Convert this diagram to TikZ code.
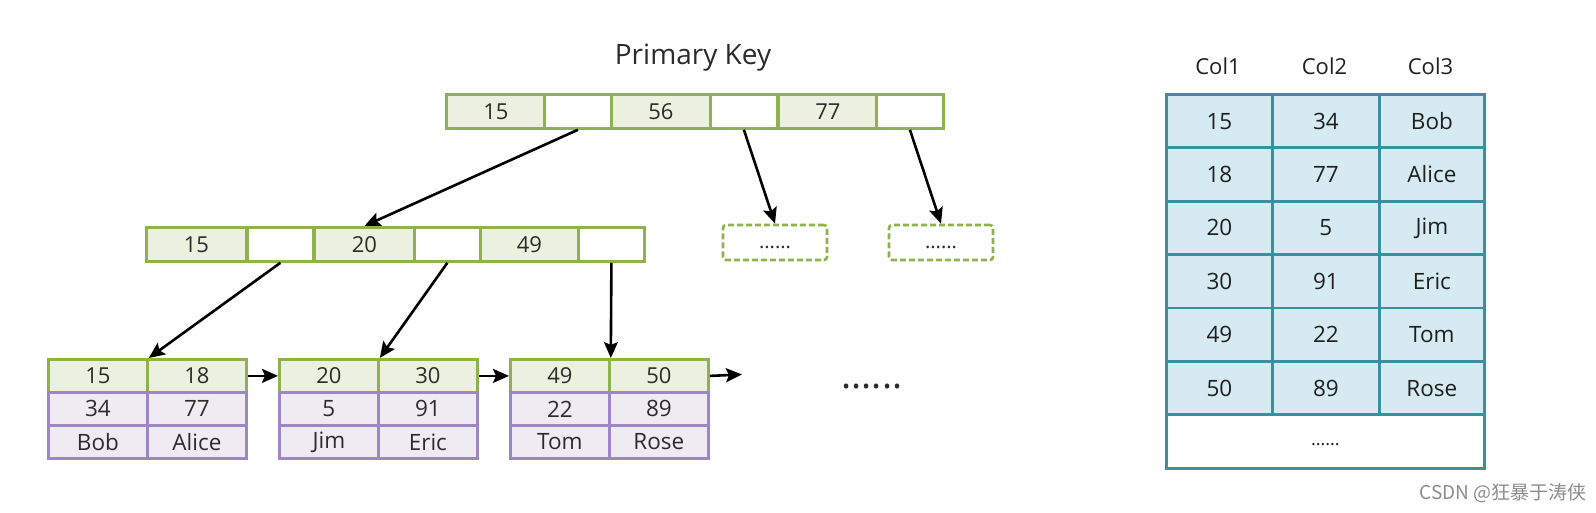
\documentclass[tikz,border=0pt]{standalone}
\usepackage{fontspec}
\setmainfont{Open Sans}
\newfontfamily\cjk{Noto Sans CJK SC}
\usepackage{tikz}
\usetikzlibrary{arrows.meta}
\usetikzlibrary{positioning}
\definecolor{keyline}{HTML}{8DB24E}
\definecolor{keyfill}{HTML}{EBF1DE}
\definecolor{rowline}{HTML}{9E86C6}
\definecolor{rowfill}{HTML}{EFEBF3}
\definecolor{tabline}{HTML}{3A8FA3}
\definecolor{tabfill}{HTML}{D6EBF1}
\definecolor{txt}{HTML}{2B2B2B}
\tikzset{
  cell/.style={rectangle, anchor=north west, inner sep=0pt, line width=2.8pt, text=txt, font=\fontsize{22}{26}\selectfont},
  keycell/.style={cell, draw=keyline, fill=keyfill},
  ptrcell/.style={cell, draw=keyline, fill=white},
  rowcell/.style={cell, draw=rowline, fill=rowfill, font=\fontsize{22.5}{26}\selectfont},
  tabcell/.style={cell, draw=tabline, fill=tabfill, text=black!88, font=\fontsize{22.5}{26}\selectfont},
  dashbox/.style={rectangle, draw=keyline, line width=2.6pt, dash pattern=on 6pt off 3pt, rounded corners=3pt, minimum width=104pt, minimum height=35pt, inner sep=0pt, text height=12pt, text depth=0pt, text=txt, font=\fontsize{20}{24}\selectfont},
  link/.style={black, line width=2.6pt, -{Stealth[length=16pt,width=14pt,inset=3pt]}},
}

\begin{document}
\begin{tikzpicture}[x=1pt, y=-1pt]
\useasboundingbox (0,0) rectangle (1596,513);
% root
\node[font=\fontsize{28}{32}\selectfont, text=txt] (title) at (693,58) {Primary Key};
\foreach \n/\x/\t in {r1/445/15, r3/610/56, r5/777/77}
  \node[keycell, minimum width=99pt, minimum height=34pt] (\n) at (\x,93) {\t};
\foreach \n/\x in {r2/543, r4/709, r6/875}
  \node[ptrcell, minimum width=67pt, minimum height=34pt] (\n) at (\x,93) {};
% second level
\foreach \n/\x/\t in {m1/145/15, m3/313/20, m5/478/49}
  \node[keycell, minimum width=100pt, minimum height=34pt] (\n) at (\x,226) {\t};
\foreach \n/\x in {m2/246, m4/413, m6/577}
  \node[ptrcell, minimum width=66pt, minimum height=34pt] (\n) at (\x,226) {};
\node[dashbox] (d1) at (775,242.5) {......};
\node[dashbox] (d2) at (941,242.5) {......};
% leaves
\foreach \l/\x/\a/\b/\c/\d/\e/\f in {1/47/15/18/34/77/Bob/Alice, 2/278/20/30/5/91/Jim/Eric, 3/509/49/50/22/89/Tom/Rose} {
  \node[keycell, minimum width=99pt, minimum height=33pt] (k\l a) at (\x,358) {\a};
  \node[keycell, minimum width=99pt, minimum height=33pt] (k\l b) at (\x+99,358) {\b};
  \node[rowcell, minimum width=99pt, minimum height=33pt] (v\l a) at (\x,391) {\c};
  \node[rowcell, minimum width=99pt, minimum height=33pt] (v\l b) at (\x+99,391) {\d};
  \node[rowcell, minimum width=99pt, minimum height=33pt] (n\l a) at (\x,424) {\e};
  \node[rowcell, minimum width=99pt, minimum height=33pt] (n\l b) at (\x+99,424) {\f};
}
\node[font=\fontsize{38}{40}\selectfont, text=txt] (etc) at (872,387) {......};
\coordinate (more) at (742,374.5);
% links
\draw[link] (r2.south) -- (m3.north);
\draw[link] (r4.south) -- (d1.north);
\draw[link] (r6.south) -- (d2.north);
\draw[link] (m2.south) -- (k1a.north east);
\draw[link] (m4.south) -- (k2a.north east);
\draw[link] (m6.south) -- (k3a.north east);
\draw[link] (k1b.east) -- (k2a.west);
\draw[link] (k2b.east) -- (k3a.west);
\draw[link] (k3b.east) -- (more);
% table
\foreach \c/\x in {1/1218, 2/1324.5, 3/1430.5}
  \node[font=\fontsize{22}{26}\selectfont, text=black!88] (h\c) at (\x,66) {Col\c};
\foreach \i/\a/\b/\c in {1/15/34/Bob, 2/18/77/Alice, 3/20/5/Jim, 4/30/91/Eric, 5/49/22/Tom, 6/50/89/Rose} {
  \node[tabcell, minimum width=106pt, minimum height=53.4pt] (t\i a) at (1165,{93+53.4*(\i-1)}) {\a};
  \node[tabcell, minimum width=107pt, minimum height=53.4pt] (t\i b) at (1271,{93+53.4*(\i-1)}) {\b};
  \node[tabcell, minimum width=105pt, minimum height=53.4pt] (t\i c) at (1378,{93+53.4*(\i-1)}) {\c};
}
\node[tabcell, fill=white, minimum width=318pt, minimum height=54pt, text height=7pt, text depth=0pt, font=\fontsize{18}{20}\selectfont] (tend) at (1165,413.4) {......};
\node[font=\cjk\fontsize{19}{22}\selectfont, text=black!45, anchor=east] (mark) at (1590,493) {CSDN @狂暴于涛侠};
\end{tikzpicture}
\end{document}
